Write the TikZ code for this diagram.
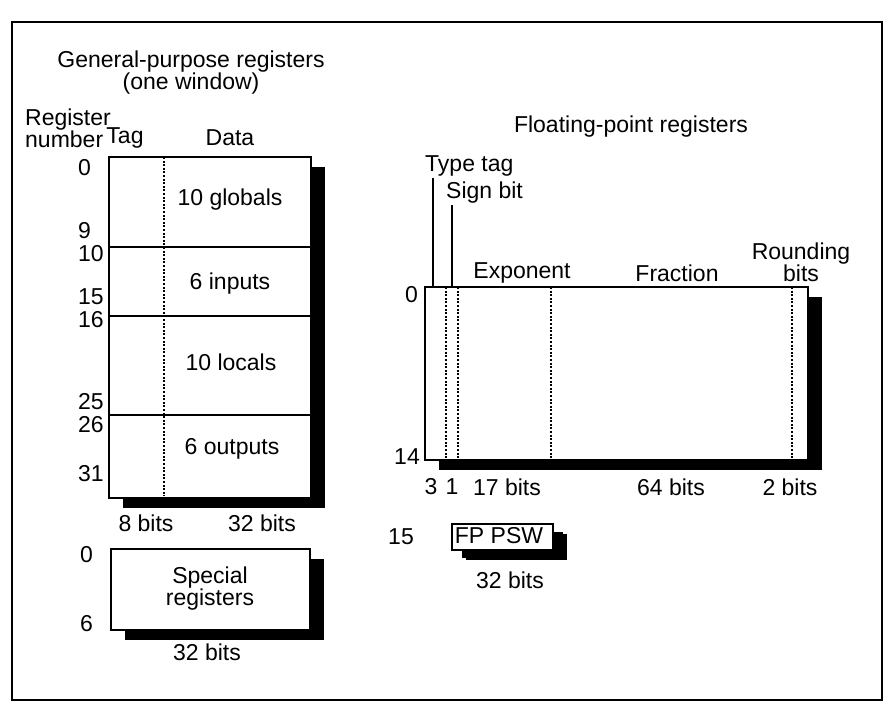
\documentclass[tikz,border=0pt]{standalone}
\usepackage{fontspec}
\setmainfont{Liberation Sans}
\usetikzlibrary{positioning,calc,shadows}

\begin{document}
\begin{tikzpicture}[x=1pt, y=-1pt, font=\fontsize{23}{22}\selectfont]
  % Styles
  \tikzstyle{regbox} = [draw, fill=white, line width=2.4pt, inner sep=0pt, anchor=north west, drop shadow={shadow xshift=14pt, shadow yshift=-10pt, fill=black, opacity=1}]
  \tikzstyle{lbl} = [inner sep=0pt]
  \tikzstyle{num} = [inner sep=0pt, anchor=west]
  \tikzstyle{field} = [line width=2.2pt, dash pattern=on 2pt off 1.6pt]
  \tikzstyle{divider} = [line width=2.4pt]
  \tikzstyle{lead} = [line width=2.2pt]

  \useasboundingbox (0,0) rectangle (894,712);
  \draw [line width=2.2pt] (12,22) rectangle (882,700);

  % General-purpose registers
  \node [lbl, align=center] (gptitle) at (191,73) {General-purpose registers\\(one window)};
  \node [lbl, align=left, anchor=west] (regnum) at (25,128) {Register\\number};
  \node [lbl] (tag) at (125,138) {Tag};
  \node [lbl] (data) at (230,138) {Data};

  \node [regbox, minimum width=202pt, minimum height=341pt] (gpr) at (108,156) {};
  \draw [divider] (108,247) -- (310,247);
  \draw [divider] (108,316) -- (310,316);
  \draw [divider] (108,415) -- (310,415);
  \draw [field] (164,157) -- (164,496);

  \node [lbl] (globals) at (230,200) {10 globals};
  \node [lbl] (inputs) at (230,284) {6 inputs};
  \node [lbl] (locals) at (231,362) {10 locals};
  \node [lbl] (outputs) at (232,449) {6 outputs};

  \node [num] (n0) at (78,168) {0};
  \node [num] (n9) at (78,231) {9};
  \node [num] (n10) at (78,254) {10};
  \node [num] (n15) at (78,297) {15};
  \node [num] (n16) at (78,320) {16};
  \node [num] (n25) at (78,402) {25};
  \node [num] (n26) at (78,425) {26};
  \node [num] (n31) at (78,474) {31};

  \node [lbl] (tagbits) at (146,523) {8 bits};
  \node [lbl] (databits) at (262,523) {32 bits};

  % Special registers
  \node [regbox, minimum width=199pt, minimum height=81pt] (spr) at (110,548) {};
  \node [lbl, align=center] (sprtext) at (210,589) {Special\\registers};
  \node [num] (s0) at (80,555) {0};
  \node [num] (s6) at (80,624) {6};
  \node [lbl] (sprbits) at (207,652) {32 bits};

  % Floating-point registers
  \node [lbl] (fptitle) at (631,127) {Floating-point registers};
  \node [regbox, minimum width=383pt, minimum height=173pt] (fpr) at (424,286) {};
  \draw [field] (446,287) -- (446,458);
  \draw [field] (458,287) -- (458,458);
  \draw [field] (551,287) -- (551,458);
  \draw [field] (792,287) -- (792,458);

  \node [lbl, anchor=west] (typetag) at (425,166) {Type tag};
  \node [lbl, anchor=west] (signbit) at (446,193) {Sign bit};
  \coordinate (tttop) at (433,178);
  \coordinate (sbtop) at (452,205);
  \draw [lead] (tttop) -- (tttop |- fpr.north);
  \draw [lead] (sbtop) -- (sbtop |- fpr.north);

  \node [lbl] (exponent) at (522,273) {Exponent};
  \node [lbl] (fraction) at (677,273) {Fraction};
  \node [lbl, align=center] (rounding) at (801,262) {Rounding\\bits};

  \node [lbl, anchor=east] (f0) at (418,295) {0};
  \node [lbl, anchor=east] (f14) at (420,457) {14};

  \node [lbl] (b3) at (431,487) {3};
  \node [lbl] (b1) at (452,487) {1};
  \node [lbl] (b17) at (507,487) {17 bits};
  \node [lbl] (b64) at (671,487) {64 bits};
  \node [lbl] (b2) at (790,487) {2 bits};

  % FP status word
  \node [lbl] (f15) at (401,537) {15};
  \node [regbox, minimum width=101pt, minimum height=26pt, drop shadow={shadow xshift=10pt, shadow yshift=-8pt, fill=black, opacity=1}] (psw) at (451,523) {};
  \node [lbl] (pswtext) at (499,536) {FP PSW};
  \node [lbl] (pswbits) at (510,580) {32 bits};

\end{tikzpicture}
\end{document}
